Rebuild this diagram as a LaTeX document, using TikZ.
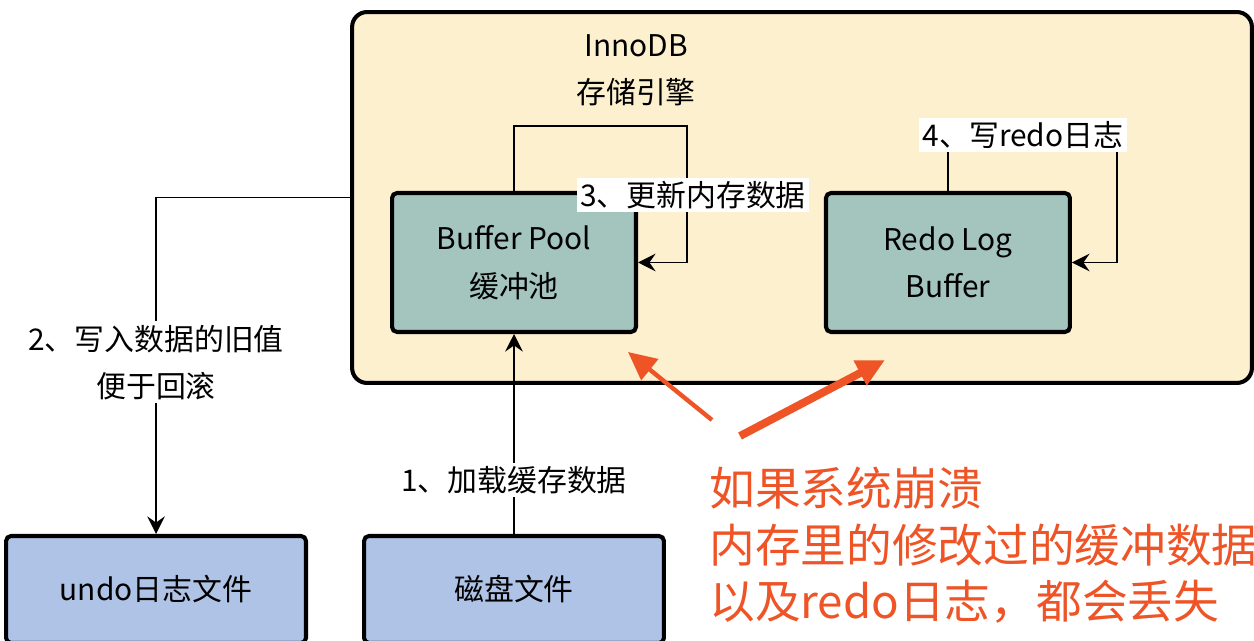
\documentclass[tikz,border=0pt]{standalone}
\usepackage{fontspec}
\setmainfont{Noto Sans CJK SC}
\usetikzlibrary{positioning, arrows.meta}
\definecolor{engine}{HTML}{FCF0CF}
\definecolor{bufgreen}{HTML}{A3C5BD}
\definecolor{fileblue}{HTML}{AEC3E6}
\definecolor{crash}{HTML}{EE5426}
\newcommand{\lbl}{\fontsize{17}{27}\selectfont}

\begin{document}
\begin{tikzpicture}[x=0.02cm, y=-0.02cm,
  box/.style={draw, line width=2.3pt, rounded corners=0.1cm, align=center, font=\lbl, inner sep=0pt},
  mem/.style={box, fill=bufgreen, minimum width=4.88cm, minimum height=2.78cm},
  file/.style={box, fill=fileblue, minimum width=6cm, minimum height=2.14cm},
  flow/.style={line width=1.1pt, -{Stealth[length=10pt, width=10pt, inset=3.5pt]}},
  tag/.style={fill=white, font=\lbl, align=center, inner sep=2pt},
  hit/.style={crash, line width=#1, -{Triangle[length=16pt, width=15pt]}}]
  \useasboundingbox (0,0) rectangle (1254,641);
  \clip (0,0) rectangle (1254,641);
  \node (innodb) [draw, line width=2.3pt, rounded corners=0.3cm, fill=engine,
    minimum width=18cm, minimum height=7.42cm] at (802,197.5) {};
  \node (title) [font=\lbl, align=center] at (636,70) {InnoDB\\存储引擎};
  \node (bp) [mem] at (514,262.5) {Buffer Pool\\缓冲池};
  \node (rl) [mem, right=3.72cm of bp] {Redo Log\\Buffer};
  \node (disk) [file, below=4cm of bp] {磁盘文件};
  \node (undo) [file, left=1.08cm of disk] {undo日志文件};
  \coordinate (bpLoop) at (687,126);
  \coordinate (rlLoop) at (1117,137);
  \draw [flow] (innodb.west) -| node[tag, pos=0.745] {2、写入数据的旧值\\便于回滚} (undo.north);
  \draw [flow] (disk.north) -- node[tag, pos=0.27] {1、加载缓存数据} (bp.south);
  \draw [flow] (bp.north) |- (bpLoop) |- (bp.east);
  \draw [flow] (rl.north) |- (rlLoop) |- (rl.east);
  \node (upd) [tag] at (693,195) {3、更新内存数据};
  \node (wr) [tag] at (1023,135) {4、写redo日志};
  % crash note
  \node (warn) [anchor=north west, text=crash, font=\fontsize{26}{32}\selectfont,
    align=left, inner sep=0pt] at (709,467)
    {如果系统崩溃\\内存里的修改过的缓冲数据\\以及redo日志，都会丢失};
  \coordinate (a1s) at (712,420);
  \coordinate (a1e) at (628,352);
  \coordinate (a2s) at (740,436);
  \coordinate (a2e) at (885,360);
  \draw [hit=2.5pt] (a1s) -- (a1e);
  \draw [hit=4.5pt] (a2s) -- (a2e);
\end{tikzpicture}
\end{document}
